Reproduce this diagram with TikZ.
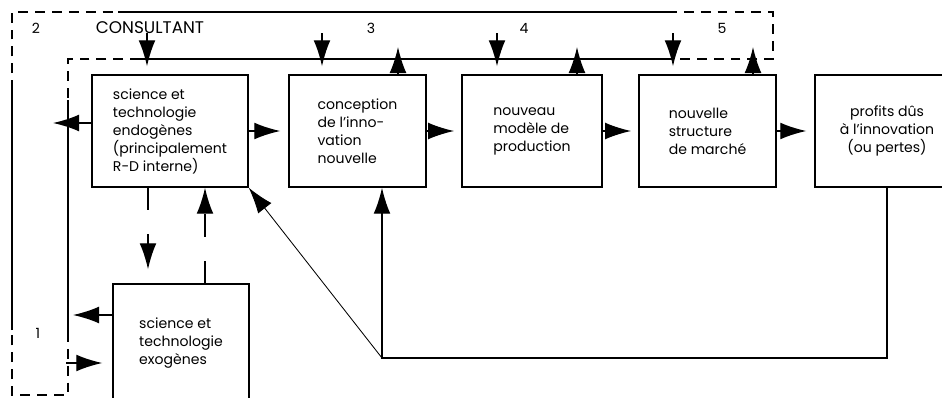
\documentclass[tikz,border=0pt]{standalone}
\usepackage{fontspec}
\setmainfont{Poppins}
\usetikzlibrary{arrows.meta}

\begin{document}
\begin{tikzpicture}[
    x=0.025cm, y=0.025cm,
    box/.style={rectangle, draw, line width=1pt, minimum height=2.8cm, align=left, font=\fontsize{10}{12.8}\selectfont},
    band/.style={line width=1pt},
    bandgap/.style={line width=1pt, dash pattern=on 7pt off 5pt},
    arrow/.style={-{Latex[length=6.5mm, width=4.2mm]}, line width=1pt},
    tag/.style={font=\fontsize{10}{12}\selectfont}
]
\clip (0,0) rectangle (942,397);

% Labels of the band
\node[tag] (t2) at (36,369) {2};
\node[font=\fontsize{12}{14}\selectfont] (cons) at (150,369) {CONSULTANT};
\node[tag] (t3) at (371,369) {3};
\node[tag] (t4) at (524,369) {4};
\node[tag] (t5) at (722,369) {5};
\node[tag] (t1) at (38,64) {1};

% Band
\draw[bandgap] (12,307) -- (12,385) -- (118,385);
\draw[band] (118,385) -- (667,385);
\draw[bandgap] (667,385) -- (773,385) -- (773,338) -- (667,338);
\draw[band] (667,338) -- (140,338);
\draw[bandgap] (140,338) -- (68,338) -- (68,297);
\draw[band] (68,297) -- (68,65);
\draw[bandgap] (68,65) -- (68,2) -- (12,2) -- (12,67);
\draw[band] (12,67) -- (12,307);

% Boxes
\node[box, minimum width=3.9cm] (endo) at (170,266) {science et\\technologie\\endogènes\\(principalement\\R-D interne)};
\node[box, minimum width=3.425cm] (concept) at (357.5,266) {conception\\de l'inno-\\vation\\nouvelle};
\node[box, minimum width=3.5cm] (prod) at (532,266) {nouveau\\modèle de\\production};
\node[box, minimum width=3.425cm] (market) at (707.5,266) {nouvelle\\structure\\de marché};
\node[box, minimum width=3.6cm, align=center] (profit) at (887,266) {profits dûs\\à l'innovation\\(ou pertes)};
\node[box, minimum width=3.4cm, minimum height=2.95cm] (exo) at (181,54) {science et\\technologie\\exogènes};

% Free ends in the band
\coordinate (d1) at (147,364);
\coordinate (d2) at (322,364);
\coordinate (d3) at (497,364);
\coordinate (d4) at (673,364);
\coordinate (u2) at (398,350);
\coordinate (u3) at (577,350);
\coordinate (u4) at (753,350);
\coordinate (l1) at (53,274);
\coordinate (l6a) at (73,82);
\coordinate (l6b) at (66,34);
\coordinate (vdown) at (148,150);
\coordinate (vup) at (205,150);
\coordinate (fb) at (382,39);

% Arrows from and to the band
\draw[arrow, shorten >=0.2cm] (d1) -- (d1 |- endo.north);
\draw[arrow, shorten >=0.2cm] (d2) -- (d2 |- concept.north);
\draw[arrow, shorten >=0.2cm] (d3) -- (d3 |- prod.north);
\draw[arrow, shorten >=0.2cm] (d4) -- (d4 |- market.north);
\draw[arrow] (u2 |- concept.north) -- (u2);
\draw[arrow] (u3 |- prod.north) -- (u3);
\draw[arrow] (u4 |- market.north) -- (u4);
\draw[arrow] (endo.west |- l1) -- (l1);
\draw[arrow] (exo.west |- l6a) -- (l6a);
\draw[arrow, shorten >=0.25cm] (l6b) -- (l6b -| exo.west);

% Chain of boxes
\draw[arrow, shorten >=0.2cm] (endo.east) -- (concept.west);
\draw[arrow, shorten >=0.18cm] (concept.east) -- (prod.west);
\draw[arrow, shorten >=0.18cm] (prod.east) -- (market.west);
\draw[arrow, shorten >=0.2cm] (market.east) -- (profit.west);

% Between endogenous and exogenous
\draw[arrow, dash pattern=on 16pt off 17pt, shorten >=0.35cm] (vdown |- endo.south) -- (vdown |- exo.north);
\draw[arrow, dash pattern=on 16pt off 17pt] (vup |- exo.north) -- (vup |- endo.south);

% Feedback of profits
\draw[arrow] (profit.south) |- (fb) -- (fb |- concept.south);
\draw[arrow, line width=0.6pt] (fb) -- (endo.south east);

\end{tikzpicture}
\end{document}
